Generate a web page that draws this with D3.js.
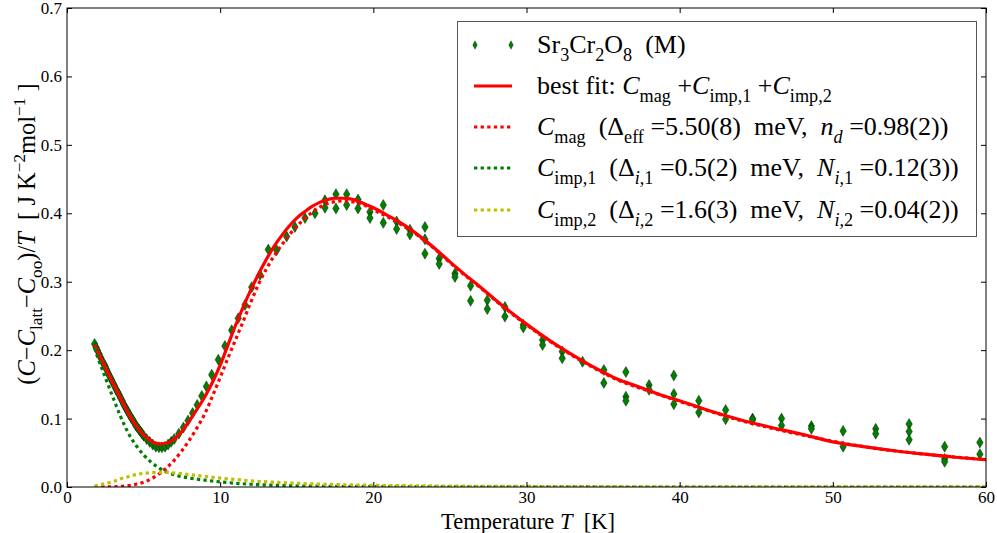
<!DOCTYPE html>
<html><head><meta charset="utf-8">
<script src="https://cdn.jsdelivr.net/npm/d3@7"></script>
<style>body{margin:0;background:#fff}svg text{white-space:pre}</style>
</head><body><svg id="c" width="997" height="533" font-family="Liberation Serif, DejaVu Serif, serif"></svg>
<script>
// ---- data ----
const dataT = [1.80,1.90,2.00,2.10,2.20,2.30,2.40,2.50,2.60,2.70,2.80,2.90,3.00,3.10,3.20,3.30,3.40,3.50,3.60,3.70,3.80,3.90,4.00,4.10,4.20,4.30,4.40,4.50,4.60,4.70,4.80,4.90,5.00,5.20,5.40,5.60,5.80,6.00,6.20,6.40,6.60,6.80,7.00,7.30,7.60,7.90,8.20,8.50,8.80,9.10,9.45,9.88,10.31,10.75,11.18,11.62,12.06,12.60,13.14,13.69,14.34,14.88,15.54,16.19,16.84,16.84,17.56,17.56,18.26,18.26,19.00,19.00,19.78,19.78,20.65,20.65,21.52,21.52,22.39,22.39,23.37,23.37,23.37,24.30,24.30,25.33,25.33,26.35,26.35,27.44,27.44,28.59,28.59,29.79,29.79,31.05,31.05,32.33,32.33,33.66,35.05,35.05,36.49,36.49,36.49,38.00,38.00,39.62,39.62,39.62,41.25,41.25,43.00,43.00,44.76,44.76,46.65,46.65,48.60,48.60,50.67,50.67,52.80,52.80,54.98,54.98,54.98,57.30,57.30,57.30,59.60,59.60];
const dataC = [0.209,0.204,0.199,0.194,0.189,0.184,0.180,0.176,0.171,0.166,0.161,0.157,0.152,0.148,0.143,0.139,0.135,0.130,0.126,0.121,0.117,0.113,0.109,0.105,0.101,0.098,0.094,0.090,0.087,0.084,0.081,0.078,0.075,0.070,0.066,0.062,0.059,0.058,0.058,0.059,0.062,0.066,0.070,0.078,0.087,0.097,0.108,0.120,0.133,0.147,0.164,0.186,0.206,0.229,0.2465,0.266,0.292,0.310,0.347,0.346,0.366,0.380,0.393,0.400,0.419,0.408,0.428,0.407,0.428,0.412,0.420,0.407,0.402,0.393,0.412,0.386,0.388,0.377,0.376,0.369,0.380,0.362,0.341,0.334,0.326,0.312,0.307,0.294,0.272,0.273,0.260,0.263,0.249,0.237,0.233,0.215,0.2075,0.198,0.188,0.183,0.171,0.152,0.168,0.132,0.126,0.149,0.142,0.163,0.136,0.121,0.126,0.109,0.1125,0.099,0.100,0.098,0.100,0.090,0.089,0.085,0.082,0.059,0.085,0.078,0.092,0.081,0.069,0.059,0.041,0.037,0.065,0.048];

const fitT   = [1.8,2.0,2.5,3.0,3.5,4.0,4.5,5.0,5.5,6.0,6.5,7.0,7.5,8.0,8.5,9.0,9.5,10.0,10.5,11,11.5,12,12.5,13,13.5,14,14.5,15,15.5,16,16.5,17,17.5,18,18.5,19,19.5,20,21,22,23,24,25,26,27,28,29,30,31,32,33,34,35,36,37,38,39,40,42,44,46,48,50,52,54,56,58,60];
const fitTotal = [0.2075,0.198,0.175,0.152,0.130,0.108,0.090,0.076,0.067,0.063,0.064,0.070,0.081,0.097,0.114,0.132,0.153,0.178,0.207,0.236,0.263,0.288,0.311,0.332,0.351,0.367,0.381,0.393,0.402,0.410,0.416,0.420,0.422,0.422,0.421,0.418,0.413,0.408,0.396,0.383,0.367,0.349,0.329,0.310,0.292,0.273,0.255,0.238,0.222,0.207,0.193,0.180,0.168,0.157,0.149,0.141,0.133,0.126,0.111,0.098,0.087,0.077,0.066,0.059,0.053,0.048,0.0435,0.040];

const magT    = [1.8,3.0,4.0,4.5,5.0,5.5,6.0,6.5,7.0,7.5,8.0,8.5,9.0,9.5,10.0,10.5,11,11.5,12,12.5,13,13.5,14,14.5,15,15.5,16,16.5,17,17.5,18,18.5,19,19.5,20,21,22,23,24,25,26,27,28,29,30,32,34,36,38,40,44,48,52,56,60];
const magVals = [0.0,0.0003,0.002,0.004,0.007,0.012,0.019,0.028,0.039,0.053,0.069,0.087,0.107,0.133,0.160,0.188,0.215,0.242,0.270,0.296,0.318,0.337,0.353,0.368,0.381,0.392,0.401,0.409,0.414,0.417,0.418,0.417,0.415,0.411,0.405,0.394,0.381,0.366,0.348,0.328,0.309,0.291,0.272,0.254,0.237,0.206,0.179,0.156,0.140,0.125,0.097,0.076,0.059,0.048,0.040];

const imp1T    = [1.8,2.0,2.5,3.0,3.5,4.0,4.5,5.0,5.5,6.0,6.5,7.0,8.0,9.0,10,11,12,14,17,20,25,30,40,60];
const imp1Vals = [0.203,0.190,0.160,0.131,0.103,0.079,0.061,0.047,0.036,0.028,0.022,0.018,0.013,0.010,0.0075,0.0055,0.004,0.0022,0.001,0.0005,0.0002,0.0001,0.0,0.0];

const imp2T    = [1.8,2.5,3.0,3.5,4.0,4.5,5.0,5.5,6.0,6.5,7.0,8.0,9.0,10,11,12,14,16,18,20,25,30,40,60];
const imp2Vals = [0.0015,0.005,0.008,0.012,0.015,0.018,0.020,0.021,0.0215,0.0213,0.0205,0.018,0.0155,0.013,0.011,0.009,0.0065,0.0045,0.0033,0.0025,0.0013,0.0008,0.0003,0.0001];

const xTicks = [0,10,20,30,40,50,60];
const yTicks = [0.0,0.1,0.2,0.3,0.4,0.5,0.6,0.7];

// ---- layout ----
const L = 67, R = 986, T = 8, B = 487;
const svg = d3.select('#c');
const x = d3.scaleLinear().domain([0,60]).range([L,R]);
const y = d3.scaleLinear().domain([0,0.7]).range([B,T]);
const FF = 'Liberation Serif, DejaVu Serif, serif';

svg.append('defs').append('clipPath').attr('id','clip')
  .append('rect').attr('x',L).attr('y',T).attr('width',R-L).attr('height',B-T);

const plot = svg.append('g').attr('clip-path','url(#clip)');

// data markers (thin diamonds)
const diamond = (w,h) => `M0,${-h/2}L${w/2},0L0,${h/2}L${-w/2},0Z`;
plot.selectAll('path.pt').data(dataT.map((t,i)=>[t,dataC[i]])).join('path')
  .attr('class','pt')
  .attr('d', diamond(6.5,11))
  .attr('transform', d=>`translate(${x(d[0])},${y(d[1])})`)
  .attr('fill','#008000').attr('stroke','#000').attr('stroke-width',0.4);

const line = d3.line().x(d=>x(d[0])).y(d=>y(d[1])).curve(d3.curveMonotoneX);
const zip = (a,b)=>a.map((v,i)=>[v,b[i]]);

plot.append('path').attr('d', line(zip(fitT,fitTotal)))
  .attr('fill','none').attr('stroke','#ff0000').attr('stroke-width',3.2);
const dash = '3.3,3.3';
plot.append('path').attr('d', line(zip(magT,magVals)))
  .attr('fill','none').attr('stroke','#ff0000').attr('stroke-width',3.2).attr('stroke-dasharray',dash);
plot.append('path').attr('d', line(zip(imp1T,imp1Vals)))
  .attr('fill','none').attr('stroke','#008000').attr('stroke-width',3.2).attr('stroke-dasharray',dash);
plot.append('path').attr('d', line(zip(imp2T,imp2Vals)))
  .attr('fill','none').attr('stroke','#bfbf00').attr('stroke-width',3.2).attr('stroke-dasharray',dash);

// frame
svg.append('rect').attr('x',L).attr('y',T).attr('width',R-L).attr('height',B-T)
  .attr('fill','none').attr('stroke','#000').attr('stroke-width',1);

// axes with inward ticks on all sides
const tk = 5;
const axB = svg.append('g').attr('transform',`translate(0,${B})`)
  .call(d3.axisBottom(x).tickValues(xTicks).tickFormat(d3.format('d')).tickSize(-tk).tickPadding(4));
const axT = svg.append('g').attr('transform',`translate(0,${T})`)
  .call(d3.axisTop(x).tickValues(xTicks).tickFormat('').tickSize(-tk));
const axL = svg.append('g').attr('transform',`translate(${L},0)`)
  .call(d3.axisLeft(y).tickValues(yTicks).tickFormat(d3.format('.1f')).tickSize(-tk).tickPadding(5));
const axR = svg.append('g').attr('transform',`translate(${R},0)`)
  .call(d3.axisRight(y).tickValues(yTicks).tickFormat('').tickSize(-tk));
[axB,axT,axL,axR].forEach(a=>{
  a.attr('font-family',FF);
  a.select('.domain').remove();
  a.selectAll('line').attr('stroke','#000');
  a.selectAll('text').attr('font-family',FF).attr('font-size',17).attr('fill','#000');
});

// rich text helper
function rich(sel, segs, fs){
  let cur = 0;
  segs.forEach(s=>{
    const shift = s.s==='sub' ? fs*0.3 : s.s==='sup' ? -fs*0.42 : 0;
    const ts = sel.append('tspan').text(s.t).attr('dy', shift-cur)
      .attr('font-size', s.s ? fs*0.7 : fs).attr('font-family',FF);
    if (s.i) ts.attr('font-style','italic');
    cur = shift;
  });
}

// axis labels
const xl = svg.append('text').attr('x',528).attr('y',528.5).attr('text-anchor','middle')
  .attr('font-family',FF).attr('fill','#000');
rich(xl,[{t:'Temperature '},{t:'T',i:1},{t:'  [K]'}],22.5);

const yl = svg.append('text').attr('transform','translate(35,234) rotate(-90)')
  .attr('text-anchor','middle').attr('font-family',FF).attr('fill','#000');
rich(yl,[{t:'('},{t:'C',i:1},{t:'−'},{t:'C',i:1},{t:'latt',s:'sub'},{t:'−'},{t:'C',i:1},{t:'oo',s:'sub'},
  {t:')/'},{t:'T',i:1},{t:'  [ J K'},{t:'−2',s:'sup'},{t:'mol'},{t:'−1',s:'sup'},{t:' ]'}],24.5);

// legend
const lg = svg.append('g');
lg.append('rect').attr('x',457.5).attr('y',21.5).attr('width',519).attr('height',215)
  .attr('fill','#fff').attr('stroke','#555').attr('stroke-width',1);
const rowY = [45,86,127,168,210];
const lx0 = 475, lx1 = 511, tx = 537, lfs = 26;
[lx0,lx1].forEach(px=>lg.append('path').attr('d',diamond(4.5,8.5))
  .attr('transform',`translate(${px},${rowY[0]})`).attr('fill','#008000').attr('stroke','#000').attr('stroke-width',0.3));
lg.append('line').attr('x1',lx0-1).attr('x2',lx1+1).attr('y1',rowY[1]).attr('y2',rowY[1])
  .attr('stroke','#ff0000').attr('stroke-width',3.2);
[['#ff0000',2],['#008000',3],['#bfbf00',4]].forEach(([c,i])=>
  lg.append('line').attr('x1',lx0-1).attr('x2',lx1+1).attr('y1',rowY[i]).attr('y2',rowY[i])
    .attr('stroke',c).attr('stroke-width',3.2).attr('stroke-dasharray',dash));

const texts = [
  [{t:'Sr'},{t:'3',s:'sub'},{t:'Cr'},{t:'2',s:'sub'},{t:'O'},{t:'8',s:'sub'},{t:'  (M)'}],
  [{t:'best fit: '},{t:'C',i:1},{t:'mag',s:'sub'},{t:' +'},{t:'C',i:1},{t:'imp,1',s:'sub'},{t:' +'},{t:'C',i:1},{t:'imp,2',s:'sub'}],
  [{t:'C',i:1},{t:'mag',s:'sub'},{t:'  (Δ'},{t:'eff',s:'sub'},{t:' =5.50(8)  meV,  '},{t:'n',i:1},{t:'d',s:'sub',i:1},{t:' =0.98(2))'}],
  [{t:'C',i:1},{t:'imp,1',s:'sub'},{t:'  (Δ'},{t:'i,',s:'sub',i:1},{t:'1',s:'sub'},{t:' =0.5(2)  meV,  '},{t:'N',i:1},{t:'i,',s:'sub',i:1},{t:'1',s:'sub'},{t:' =0.12(3))'}],
  [{t:'C',i:1},{t:'imp,2',s:'sub'},{t:'  (Δ'},{t:'i,',s:'sub',i:1},{t:'2',s:'sub'},{t:' =1.6(3)  meV,  '},{t:'N',i:1},{t:'i,',s:'sub',i:1},{t:'2',s:'sub'},{t:' =0.04(2))'}]
];
texts.forEach((segs,i)=>{
  const t = lg.append('text').attr('x',tx).attr('y',rowY[i]+8).attr('font-family',FF).attr('fill','#000');
  rich(t,segs,lfs);
});
</script></body></html>
